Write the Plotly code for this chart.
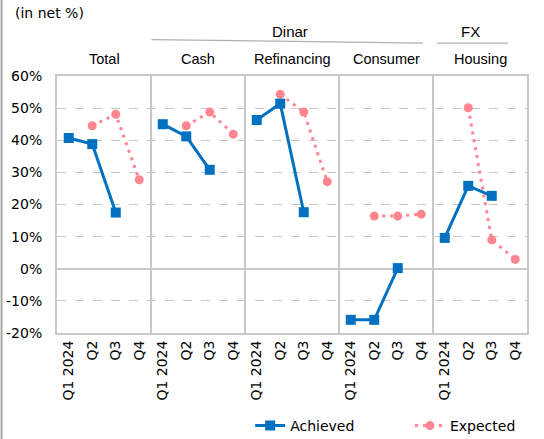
import plotly.graph_objects as go

# Survey categories and quarters
panels = ["Total", "Cash", "Refinancing", "Consumer", "Housing"]
quarters = ["Q1 2024", "Q2", "Q3", "Q4"]

# Value axis ticks (net %)
y_ticks = [-20, -10, 0, 10, 20, 30, 40, 50, 60]

# Achieved net percentages (Q1..Q3 2024), per category
achieved_total = [40.7, 38.8, 17.5, None]
achieved_cash = [45.0, 41.2, 30.8, None]
achieved_refinancing = [46.3, 51.4, 17.6, None]
achieved_consumer = [-15.9, -15.9, 0.2, None]
achieved_housing = [9.6, 25.8, 22.7, None]

# Expected net percentages (Q2..Q4 2024), per category
expected_total = [None, 44.5, 48.1, 27.7]
expected_cash = [None, 44.5, 48.8, 41.9]
expected_refinancing = [None, 54.3, 48.8, 27.1]
expected_consumer = [None, 16.4, 16.4, 17.0]
expected_housing = [None, 50.1, 9.0, 2.9]

achieved = [achieved_total, achieved_cash, achieved_refinancing,
            achieved_consumer, achieved_housing]
expected = [expected_total, expected_cash, expected_refinancing,
            expected_consumer, expected_housing]

BLUE = "#0070C0"
PINK = "#FF8690"
GRID = "#C8C8C8"
FONT = "DejaVu Sans, Verdana, sans-serif"
HFONT = "Liberation Sans, Arial, sans-serif"

fig = go.Figure()
n_q = len(quarters)

for p, name in enumerate(panels):
    xs = [p * n_q + q for q in range(n_q)]
    fig.add_trace(go.Scatter(
        x=xs, y=expected[p], mode="lines+markers", name="Expected",
        line=dict(color=PINK, width=3, dash="3px,5px"),
        marker=dict(symbol="circle", size=9, color=PINK),
        showlegend=(p == 0), legend="legend2",
        connectgaps=False, cliponaxis=False))
    fig.add_trace(go.Scatter(
        x=xs, y=achieved[p], mode="lines+markers", name="Achieved",
        line=dict(color=BLUE, width=3),
        marker=dict(symbol="square", size=10, color=BLUE),
        showlegend=(p == 0), legend="legend",
        connectgaps=False, cliponaxis=False))

tickvals = list(range(len(panels) * n_q))
ticktext = quarters * len(panels)

# Panel separators
for p in range(1, len(panels)):
    fig.add_shape(type="line", xref="x", yref="paper",
                  x0=p * n_q - 0.5, x1=p * n_q - 0.5, y0=0, y1=1,
                  line=dict(color=GRID, width=2), layer="below")

# Panel headers
for p, name in enumerate(panels):
    fig.add_annotation(x=p * n_q + 1.5, y=1, xref="x", yref="paper",
                       text=name, showarrow=False, yanchor="middle",
                       yshift=17,
                       font=dict(size=14.5, color="#000000", family=HFONT))

# Group headers with underlines
fig.add_annotation(x=9.41, y=1, xref="x", yref="paper", text="Dinar",
                   showarrow=False, yanchor="middle", yshift=45,
                   font=dict(size=15, color="#000000", family=HFONT))
fig.add_shape(type="line", xref="x", yref="paper", x0=3.52, x1=15.07,
              y0=1.1415, y1=1.128, line=dict(color="#B0B0B0", width=1.2))
fig.add_annotation(x=17.1, y=1, xref="x", yref="paper", text="FX",
                   showarrow=False, yanchor="middle", yshift=45,
                   font=dict(size=15, color="#000000", family=HFONT))
fig.add_shape(type="line", xref="x", yref="paper", x0=15.66, x1=18.7,
              y0=1.128, y1=1.128, line=dict(color="#B0B0B0", width=1.2))

fig.add_annotation(x=-0.0943, y=1.245, xref="paper", yref="paper",
                   text="(in net %)", showarrow=False,
                   xanchor="left", yanchor="middle",
                   font=dict(size=14, color="#000000", family=FONT))

legend_style = dict(orientation="h", xanchor="left", yref="container",
                    y=0.0296, yanchor="middle", bgcolor="rgba(0,0,0,0)",
                    font=dict(size=14, family=FONT, color="#000000"))

fig.update_layout(
    width=544, height=439,
    margin=dict(l=57, r=17, t=76, b=106),
    paper_bgcolor="white", plot_bgcolor="white",
    font=dict(family=FONT, size=14, color="#000000"),
    legend=dict(x=0.411, **legend_style),
    legend2=dict(x=0.751, **legend_style),
)

fig.update_xaxes(range=[-0.5, len(tickvals) - 0.5], tickvals=tickvals,
                 ticktext=ticktext, tickangle=-90, showgrid=False,
                 showline=True, linecolor=GRID, linewidth=2, mirror=True,
                 ticks="", tickfont=dict(size=14), zeroline=False,
                 automargin=False)
fig.update_yaxes(range=[-20, 60], tickvals=y_ticks,
                 ticktext=[f"{v}%" for v in y_ticks],
                 showgrid=True, gridcolor=GRID, griddash="dash", gridwidth=1,
                 zeroline=True, zerolinecolor=GRID, zerolinewidth=2,
                 showline=True, linecolor=GRID, linewidth=2, mirror=True,
                 ticks="", tickfont=dict(size=14), ticklabelstandoff=10,
                 automargin=False)

# Chart frame edge on the left
fig.add_shape(type="line", xref="paper", yref="paper", x0=-0.118, x1=-0.118,
              y0=-0.45, y1=1.32, line=dict(color="#A8A8A8", width=2))

fig.write_html("out.html")
